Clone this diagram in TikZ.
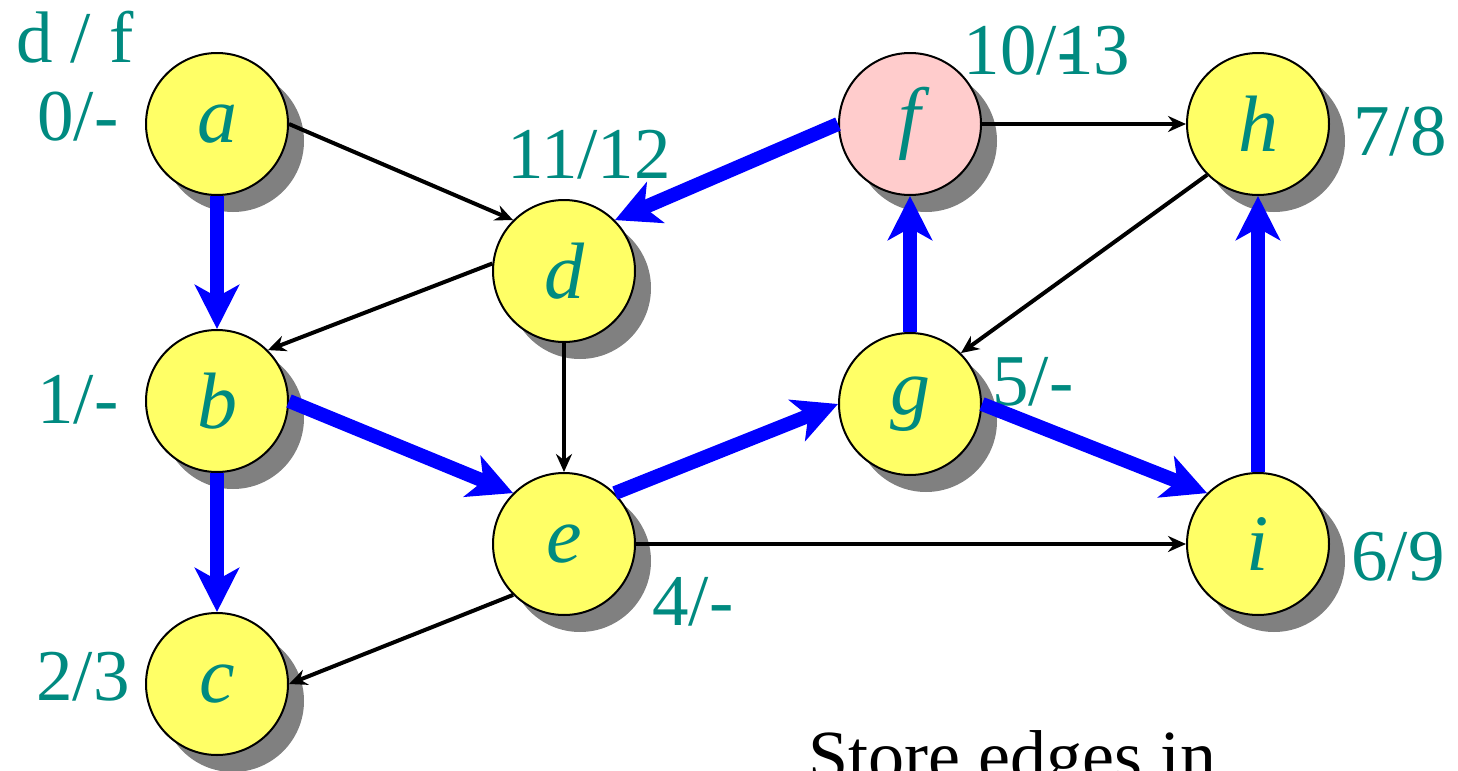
\documentclass[tikz,border=0pt]{standalone}
\usepackage{fontspec}
\setmainfont{Liberation Serif}
\usetikzlibrary{arrows.meta,shadows}
\definecolor{labteal}{RGB}{0,138,128}
\definecolor{vtxyellow}{RGB}{255,255,102}
\definecolor{vtxpink}{RGB}{255,204,204}
\definecolor{treeblue}{RGB}{0,0,255}

\begin{document}
\begin{tikzpicture}[
      x=0.5pt, y=-0.5pt,
      every node/.style={font=\fontsize{36.5}{44}\selectfont},
      vtx/.style={circle, draw=black, line width=1pt, fill=vtxyellow,
        minimum size=71pt, inner sep=0pt, text=labteal,
        font=\fontsize{40}{48}\selectfont\itshape,
        drop shadow={shadow xshift=8pt, shadow yshift=-8.5pt, fill=gray, opacity=1}},
      lbl/.style={text=labteal, inner sep=0pt, anchor=base},
      edge/.style={line width=2pt, -{Stealth[length=9pt, width=8pt, inset=3pt]}},
      tree/.style={line width=7pt, treeblue, -{Stealth[length=22pt, width=22pt, inset=6pt]}}
    ]
    \useasboundingbox (0,0) rectangle (1458,771);

    % vertices
    \foreach \n/\x/\y in {a/217/124, b/217/401, c/217/684, d/564/271,
                          e/564/544, g/910/404, h/1258/124, i/1258/544}{
      \node[vtx] (\n) at (\x,\y) {\n};
    }
    \node[vtx, fill=vtxpink] (f) at (910,124) {f};

    % discovery / finish times
    \node[lbl] (hd) at (75,62) {d / f};
    \node[lbl] (ta) at (78,140) {0/-};
    \node[lbl] (tb) at (78,423) {1/-};
    \node[lbl] (tc) at (83,700) {2/3};
    \node[lbl] (td) at (589,178) {11/12};
    \node[lbl] (te) at (693,625) {4/-};
    \node[lbl] (tf) at (1047,75) {10/\rlap{-}13};
    \node[lbl] (tg) at (1033,405) {5/-};
    \node[lbl] (th) at (1400,155) {7/8};
    \node[lbl] (ti) at (1398,580) {6/9};

    % graph edges
    \foreach \s/\t in {a.east/d.north west, d.174/b.north east, d.south/e.north,
                       e.south west/c.east, e.east/i.west, f.east/h.west,
                       h.south west/g.north east}{
      \draw[edge] (\s) -- (\t);
    }

    % tree edges
    \foreach \s/\t in {a.south/b.north, b.south/c.north, b.east/e.north west,
                       e.north east/g.west, g.north/f.south, f.west/d.north east,
                       g.east/i.north west, i.north/h.south}{
      \draw[tree] (\s) -- (\t);
    }

    \node[anchor=base west, inner sep=0pt, font=\fontsize{36}{43}\selectfont]
      (note) at (808,780) {Store edges in};
\end{tikzpicture}
\end{document}
